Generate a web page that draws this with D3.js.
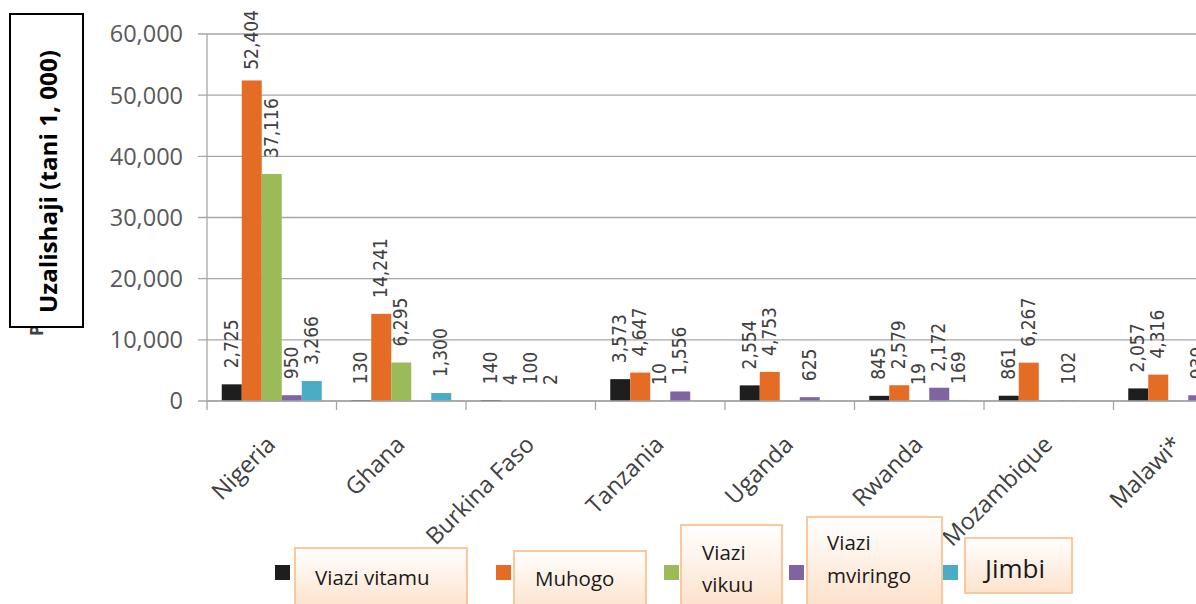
<!DOCTYPE html>
<html>
<head>
<meta charset="utf-8">
<script src="https://cdn.jsdelivr.net/npm/d3@7"></script>
<style>
  body { margin: 0; background: #fff; }
  svg { display: block; }
  .tick-y { font-family: "Open Sans", sans-serif; font-size: 23.5px; fill: #595959; }
  .cat { font-family: "Open Sans", sans-serif; font-size: 23.5px; fill: #404040; }
  .val { font-family: "DejaVu Sans Condensed", "DejaVu Sans", sans-serif; font-stretch: condensed; font-size: 19px; fill: #404040; }
  .leg { font-family: "Open Sans", sans-serif; font-size: 20.5px; fill: #1a1a1a; }
</style>
</head>
<body>
<svg id="chart" width="1196" height="604"></svg>
<script>
(function () {
  "use strict";

  // countries along the x axis
  var categories = ['Nigeria', 'Ghana', 'Burkina Faso', 'Tanzania', 'Uganda', 'Rwanda', 'Mozambique', 'Malawi*'];
  var seriesNames = ['Viazi vitamu', 'Muhogo', 'Viazi vikuu', 'Viazi mviringo', 'Jimbi'];
  var seriesColors = ['#1e1e1e', '#e46c24', '#9bbb59', '#8064a2', '#4bacc6'];

  // production, 1,000 tonnes (null = no label / no bar)
  var viaziVitamu   = [2725, 130, 140, 3573, 2554, 845, 861, 2057];
  var muhogo        = [52404, 14241, 4, 4647, 4753, 2579, 6267, 4316];
  var viaziVikuu    = [37116, 6295, 100, 10, null, 19, null, null];
  var viaziMviringo = [950, null, 2, 1556, 625, 2172, 102, 939];
  var jimbi         = [3266, 1300, null, null, null, 169, null, null];
  var yTicks = [0, 10000, 20000, 30000, 40000, 50000, 60000];

  var seriesValues = [viaziVitamu, muhogo, viaziVikuu, viaziMviringo, jimbi];

  var svg = d3.select('#chart');
  var left = 207, bottom = 401, top = 34, step = 129.5;

  var x = d3.scaleBand().domain(categories).range([left, left + step * categories.length]);
  var xSub = d3.scaleBand().domain(seriesNames).range([0, x.bandwidth()]).paddingOuter(0.7375);
  var y = d3.scaleLinear().domain([0, 60000]).range([bottom, top]);

  // gradient for legend boxes
  var grad = svg.append('defs').append('linearGradient')
      .attr('id', 'boxfill').attr('x1', 0).attr('y1', 0).attr('x2', 0).attr('y2', 1);
  grad.append('stop').attr('offset', '0%').attr('stop-color', '#ffffff');
  grad.append('stop').attr('offset', '100%').attr('stop-color', '#fde2cc');

  // hidden original axis title, peeking out under the box
  svg.append('text')
      .attr('transform', 'translate(43,336) rotate(-90)')
      .style('font-family', 'Open Sans, sans-serif').style('font-weight', 700)
      .style('font-size', '18px').style('fill', '#404040')
      .text('Production (1,000 tons)');

  // gridlines
  svg.append('g').selectAll('line').data(yTicks).enter().append('line')
      .attr('x1', 198).attr('x2', 1196)
      .attr('y1', function (d) { return y(d); }).attr('y2', function (d) { return y(d); })
      .attr('stroke', '#a6a6a6').attr('stroke-width', 1.3);

  // y axis line
  svg.append('line').attr('x1', left).attr('x2', left).attr('y1', top).attr('y2', bottom)
      .attr('stroke', '#a6a6a6').attr('stroke-width', 1.3);

  svg.append('g').selectAll('text').data(yTicks).enter().append('text')
      .attr('class', 'tick-y')
      .attr('x', 183).attr('y', function (d) { return y(d); }).attr('dy', '0.36em')
      .attr('text-anchor', 'end')
      .text(d3.format(','));

  // bars
  var groups = svg.append('g').selectAll('g').data(categories).enter().append('g')
      .attr('transform', function (d) { return 'translate(' + x(d) + ',0)'; });

  var cells = groups.selectAll('rect').data(function (c, i) {
    return seriesNames.map(function (s, k) {
      return {series: s, color: seriesColors[k], value: seriesValues[k][i]};
    });
  }).enter().filter(function (d) { return d.value != null; });

  cells.append('rect')
      .attr('x', function (d) { return xSub(d.series); })
      .attr('width', xSub.bandwidth())
      .attr('y', function (d) { return y(d.value); })
      .attr('height', function (d) { return bottom - y(d.value); })
      .attr('fill', function (d) { return d.color; });

  // x axis
  var xAxis = svg.append('g').attr('transform', 'translate(0,' + bottom + ')')
      .call(d3.axisBottom(x).tickSize(0).tickFormat(''));
  xAxis.select('.domain').attr('stroke', '#a6a6a6').attr('stroke-width', 1.3).attr('d', 'M' + left + ',0H1196');
  svg.append('g').selectAll('line').data(d3.range(categories.length + 1)).enter().append('line')
      .attr('x1', function (i) { return left + i * step; }).attr('x2', function (i) { return left + i * step; })
      .attr('y1', bottom).attr('y2', bottom + 9)
      .attr('stroke', '#a6a6a6').attr('stroke-width', 1.3);

  svg.append('g').selectAll('text').data(categories).enter().append('text')
      .attr('class', 'cat')
      .attr('text-anchor', 'end')
      .attr('transform', function (d) {
        return 'translate(' + (x(d) + x.bandwidth() / 2 + 5) + ',446) rotate(-45)';
      })
      .text(function (d) { return d; });

  // value labels, rotated
  cells.append('text')
      .attr('class', 'val')
      .text(function (d) { return d3.format(',')(d.value); })
      .attr('transform', function (d) {
        var len = this.getComputedTextLength();
        var start = y(d.value) - 16;
        if (start - len < 10) { start = 10 + len; }
        return 'translate(' + (xSub(d.series) + xSub.bandwidth() / 2 + 6) + ',' + start + ') rotate(-90)';
      });

  // axis title box
  svg.append('rect').attr('x', 10).attr('y', 14).attr('width', 73).attr('height', 313)
      .attr('fill', '#fff').attr('stroke', '#000').attr('stroke-width', 2);
  svg.append('text')
      .attr('transform', 'translate(57,313) rotate(-90)')
      .attr('textLength', 263).attr('lengthAdjust', 'spacingAndGlyphs')
      .style('font-family', 'Open Sans, sans-serif').style('font-weight', 700)
      .style('font-size', '23px').style('fill', '#000')
      .text('Uzalishaji (tani 1, 000)');

  // legend: marker squares and the text boxes laid over them
  var legendLayout = [
    {sx: 275, box: [295, 548, 172, 60], lines: [[315, 585]], size: 20.5},
    {sx: 496, box: [514, 551, 132, 60], lines: [[535, 586]], size: 20.5},
    {sx: 664, box: [681, 525, 101, 80], lines: [[702, 560], [702, 592]], size: 20.5},
    {sx: 789, box: [807, 517, 135, 88], lines: [[827, 550], [827, 583]], size: 20.5},
    {sx: 943, box: [965, 538, 107, 55], lines: [[985, 578]], size: 26}
  ];
  var legendLines = [['Viazi vitamu'], ['Muhogo'], ['Viazi', 'vikuu'], ['Viazi', 'mviringo'], ['Jimbi']];

  var leg = svg.append('g').selectAll('g').data(seriesNames).enter().append('g');
  leg.append('rect')
      .attr('x', function (d, i) { return legendLayout[i].sx; }).attr('y', 565)
      .attr('width', 15).attr('height', 15)
      .attr('fill', function (d, i) { return seriesColors[i]; });
  leg.append('rect')
      .attr('x', function (d, i) { return legendLayout[i].box[0]; })
      .attr('y', function (d, i) { return legendLayout[i].box[1]; })
      .attr('width', function (d, i) { return legendLayout[i].box[2]; })
      .attr('height', function (d, i) { return legendLayout[i].box[3]; })
      .attr('fill', 'url(#boxfill)').attr('stroke', '#fbc89e').attr('stroke-width', 2);
  leg.each(function (d, i) {
    var g = d3.select(this);
    legendLines[i].forEach(function (t, k) {
      g.append('text').attr('class', 'leg')
          .attr('x', legendLayout[i].lines[k][0]).attr('y', legendLayout[i].lines[k][1])
          .style('font-size', legendLayout[i].size + 'px')
          .text(t);
    });
  });
}());
</script>
</body>
</html>
